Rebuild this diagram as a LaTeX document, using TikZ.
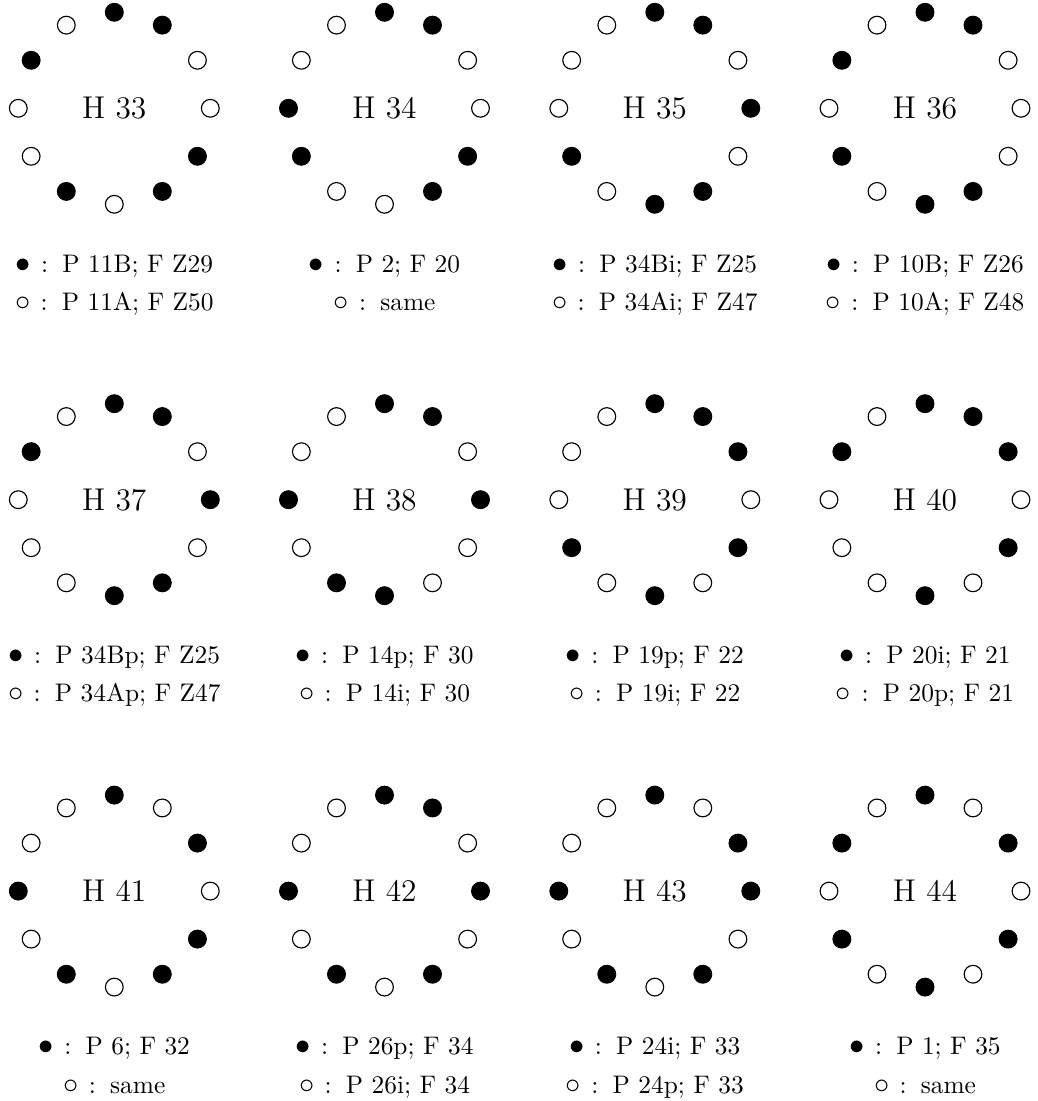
\documentclass[tikz,border=0pt]{standalone}
\tikzset{
  dot1/.style={circle, fill=black, draw=black, line width=0.45pt, minimum size=7pt, inner sep=0pt},
  dot0/.style={circle, fill=white, draw=black, line width=0.45pt, minimum size=7pt, inner sep=0pt},
  hlabel/.style={font=\fontsize{12.4}{15}\selectfont, inner sep=0pt},
  legend/.style={font=\fontsize{10}{12}\selectfont, inner sep=0pt, anchor=base},
}
\newcommand{\bigsym}[1]{{\fontsize{12}{14}\selectfont$#1$}}
\newcommand{\hdiag}[6]{%
  \begin{scope}[shift={(#1,#2)}]
    \node[hlabel] (h#3) at (0,0) {H #3};
    \foreach \v [count=\k] in {#4} {
      \node[dot\v] (d#3-\k) at ({90-30*(\k-1)}:96) {};
    }
    \node[legend] (la#3) at (0,-163.8) {\bigsym{\bullet}\hspace{4.1pt}:\hspace{5.6pt}#5};
    \node[legend] (lb#3) at (0,-202) {\bigsym{\circ}\hspace{4.1pt}:\hspace{5.6pt}#6};
  \end{scope}}
\begin{document}
\begin{tikzpicture}[x=0.394pt, y=0.394pt]
\useasboundingbox (0,0) rectangle (1037,1101);
% row 1
\hdiag{114.3}{992.7}{33}{1,1,0,0,1,1,0,1,0,0,1,0}{P 11B; F Z29}{P 11A; F Z50}
\hdiag{384.5}{992.7}{34}{1,1,0,0,1,1,0,0,1,1,0,0}{P 2; F 20}{same}
\hdiag{654.8}{992.7}{35}{1,1,0,1,0,1,1,0,1,0,0,0}{P 34Bi; F Z25}{P 34Ai; F Z47}
\hdiag{925}{992.7}{36}{1,1,0,0,0,1,1,0,1,0,1,0}{P 10B; F Z26}{P 10A; F Z48}
% row 2
\hdiag{114.3}{601.3}{37}{1,1,0,1,0,1,1,0,0,0,1,0}{P 34Bp; F Z25}{P 34Ap; F Z47}
\hdiag{384.5}{601.3}{38}{1,1,0,1,0,0,1,1,0,1,0,0}{P 14p; F 30}{P 14i; F 30}
\hdiag{654.8}{601.3}{39}{1,1,1,0,1,0,1,0,1,0,0,0}{P 19p; F 22}{P 19i; F 22}
\hdiag{925}{601.3}{40}{1,1,1,0,1,0,1,0,0,0,1,0}{P 20i; F 21}{P 20p; F 21}
% row 3
\hdiag{114.3}{209.9}{41}{1,0,1,0,1,1,0,1,0,1,0,0}{P 6; F 32}{same}
\hdiag{384.5}{209.9}{42}{1,1,0,1,0,1,0,1,0,1,0,0}{P 26p; F 34}{P 26i; F 34}
\hdiag{654.8}{209.9}{43}{1,0,1,1,0,1,0,1,0,1,0,0}{P 24i; F 33}{P 24p; F 33}
\hdiag{925}{209.9}{44}{1,0,1,0,1,0,1,0,1,0,1,0}{P 1; F 35}{same}
\end{tikzpicture}
\end{document}
